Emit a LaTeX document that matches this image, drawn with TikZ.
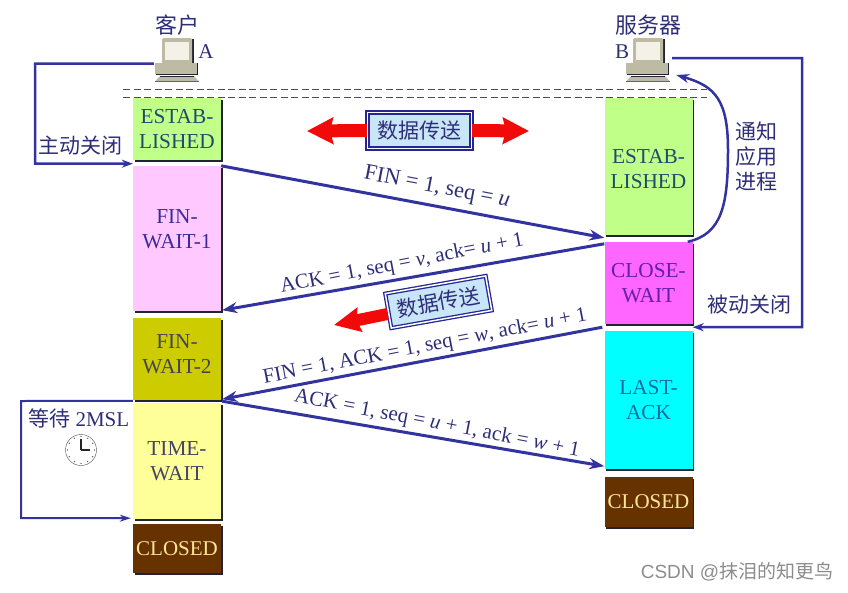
\documentclass[tikz,border=0pt]{standalone}
\usepackage{fontspec}
\setmainfont{Liberation Serif}
\newfontfamily\cjk{Noto Sans CJK SC}
\newfontfamily\wmfont{Liberation Sans}
\usetikzlibrary{arrows.meta,shadows,calc}
\definecolor{inkc}{HTML}{2E2E78}
\definecolor{linec}{HTML}{3333A0}
\definecolor{shadc}{HTML}{222233}
\definecolor{redc}{HTML}{F20A0A}
\definecolor{pcbody}{HTML}{BDBBA3}
\definecolor{pcscr}{HTML}{F4F2E6}
\definecolor{dbfill}{HTML}{C8E6F8}
\tikzset{
  stbox/.style={inner sep=0pt, minimum width=88pt, align=center,
    font=\fontsize{21.3}{25}\selectfont,
    general shadow={fill=shadc, shadow xshift=1.5pt, shadow yshift=-1.5pt}},
  sttext/.style={inner sep=0pt, align=center, font=\fontsize{21.3}{25}\selectfont},
  msg/.style={font=\fontsize{21}{24}\selectfont, text=inkc, inner sep=0pt},
  lab/.style={font=\fontsize{21}{25}\selectfont\cjk, text=inkc, inner sep=0pt, align=center},
  flow/.style={draw=linec, line width=3pt, -{Stealth[length=15pt,width=11pt]}},
  loopa/.style={draw=linec, line width=2.5pt, -{Stealth[length=11pt,width=8pt]}},
  dbox/.style={draw=inkc!80!blue, line width=1.3pt, double=white, double distance=1.5pt, fill=dbfill,
     inner sep=0pt, minimum width=104pt, minimum height=36pt, font=\fontsize{21}{25}\selectfont\cjk, text=inkc},
  redarrow/.style={draw=redc, line width=13pt, -{Stealth[length=26pt,width=26pt,inset=3pt]}, redc},
  redarrowb/.style={draw=redc, line width=12pt, -{Stealth[length=26pt,width=24pt,inset=3pt]}, redc},
  dash line/.style={draw=black!70, line width=1pt, dash pattern=on 7pt off 3.5pt},
}
\begin{document}
\begin{tikzpicture}[x=1pt,y=-1pt]
\useasboundingbox (0,0) rectangle (848,592);
% state boxes, client
\node[stbox, fill={rgb,255:red,192;green,255;blue,136}, text={rgb,255:red,30;green,75;blue,110}, minimum height=62pt] (ce) at (177,129) {ESTAB-\\LISHED};
\node[stbox, fill={rgb,255:red,255;green,200;blue,255}, minimum height=145pt] (cf1) at (177,238.5) {};
\node[sttext, text={rgb,255:red,58;green,42;blue,154}] (cf1t) at (177,229.5) {FIN-\\WAIT-1};
\node[stbox, fill={rgb,255:red,204;green,204;blue,0}, minimum height=82pt] (cf2) at (177,359) {};
\node[sttext, text={rgb,255:red,68;green,68;blue,90}] (cf2t) at (177,354) {FIN-\\WAIT-2};
\node[stbox, fill={rgb,255:red,255;green,255;blue,153}, text={rgb,255:red,68;green,68;blue,100}, minimum height=116pt] (ct) at (177,461) {TIME-\\WAIT};
\node[stbox, fill={rgb,255:red,102;green,51;blue,0}, text={rgb,255:red,255;green,230;blue,153}, minimum height=49pt, font=\fontsize{21}{25}\selectfont] (cc) at (177,548.5) {CLOSED};
% state boxes, server
\node[stbox, fill={rgb,255:red,192;green,255;blue,136}, minimum height=137pt] (se) at (648.5,166.5) {};
\node[sttext, text={rgb,255:red,30;green,75;blue,110}] (set) at (648.5,169.5) {ESTAB-\\LISHED};
\node[stbox, fill={rgb,255:red,255;green,102;blue,255}, text={rgb,255:red,100;green,30;blue,170}, minimum height=82pt] (sw) at (648.5,283) {CLOSE-\\WAIT};
\node[stbox, fill={rgb,255:red,0;green,255;blue,255}, text={rgb,255:red,15;green,105;blue,175}, minimum height=138pt] (sl) at (648.5,400) {LAST-\\ACK};
\node[stbox, fill={rgb,255:red,102;green,51;blue,0}, text={rgb,255:red,255;green,230;blue,153}, minimum height=50pt, font=\fontsize{21}{25}\selectfont] (sc) at (648.5,502) {CLOSED};
% dashed lines
\coordinate (d1) at (123,89); \coordinate (d2) at (707,89);
\coordinate (d3) at (123,97); \coordinate (d4) at (707,97);
\draw[dash line] (d1) -- (d2);
\draw[dash line] (d3) -- (d4);
% computers
\node[minimum width=44pt, minimum height=44pt, inner sep=0pt] (pca) at (177,60) {};
\node[minimum width=44pt, minimum height=44pt, inner sep=0pt] (pcb) at (648,60) {};
\foreach \n in {pca,pcb}{
  \begin{scope}[shift={(\n.center)}]
    \fill[shadc] (17,-21) rectangle (15,3);
    \fill[pcbody, rounded corners=1.5pt] (-15,-22) rectangle (15,4);
    \fill[pcscr] (-12,-18) rectangle (12,0);
    \fill[shadc] (-21,3) rectangle (21,15);
    \fill[pcbody] (-22,3) rectangle (20,13.5);
    \fill[pcbody] (-17,16) -- (17,16) -- (22,21.5) -- (-22,21.5) -- cycle;
    \draw[shadc, line width=0.8pt] (-17,16) -- (17,16);
    \draw[shadc!70, line width=0.8pt] (-22,21.5) -- (22,21.5);
  \end{scope}
}
% titles
\node[lab, font=\fontsize{22}{25}\selectfont\cjk] (tca) at (177,25) {客户};
\node[lab, font=\fontsize{22}{25}\selectfont\cjk] (tcb) at (648,25) {服务器};
\node[msg, font=\fontsize{21}{25}\selectfont] (la) at (206,52) {A};
\node[msg, font=\fontsize{21}{25}\selectfont] (lb) at (622,52) {B};
% active close loop
\coordinate (ca1) at (35,63.5);
\coordinate (ca2) at (35,163.5);
\draw[loopa] ([xshift=-1pt,yshift=-3.5pt]pca.west) -- (ca1) -- (ca2) -- ([yshift=-3.5pt]ce.south west);
\node[lab] (zd) at (80,146) {主动关闭};
% passive close loop
\coordinate (cb1) at (802,58);
\coordinate (cb2) at (802,327);
\draw[loopa] ([xshift=2pt,yshift=2pt]pcb.east) -- (cb1) -- (cb2) -- ([yshift=-3pt]sw.south east);
\node[lab] (bd) at (749,305) {被动关闭};
% notify curve
\draw[draw=linec, line width=2.5pt, -{Stealth[length=13pt,width=9pt]}]
  ([xshift=-5pt]sw.north east) .. controls (722,234) and (728,205) .. (728,150) .. controls (728,100) and (715,86) .. ([xshift=6pt,yshift=-15pt]pcb.east);
\node[lab] (tz) at (756,156) {通知\\应用\\进程};
% messages
\draw[flow] (cf1.north east) -- ([yshift=4pt]sw.north west);
\draw[flow] ([yshift=-2pt]sw.north west) -- ([xshift=1pt,yshift=1pt]cf1.south east);
\draw[flow] ([xshift=-2pt,yshift=-3pt]sw.south west) -- ([xshift=1pt,yshift=1pt]cf2.south east);
\draw[flow] ([xshift=1pt,yshift=-1pt]cf2.south east) -- ([yshift=3pt]sl.south west);
\node[msg, rotate=-11, font=\fontsize{22.5}{24}\selectfont] (m1) at (437,188) {FIN = 1, seq = \textit{u}};
\node[msg, rotate=11] (m2) at (402,264) {ACK = 1, seq = \textit{v}, ack= \textit{u} + 1};
\node[msg, rotate=11] (m3) at (425,347) {FIN = 1, ACK = 1, seq = \textit{w}, ack= \textit{u} + 1};
\node[msg, rotate=-11] (m4) at (437,424) {ACK = 1, seq = \textit{u} + 1, ack = \textit{w} + 1};
% data boxes and red arrows
\coordinate (r1) at (307,131);
\coordinate (r2) at (529,131);
\coordinate (r3) at (334,325);
\node[dbox] (db1) at (419.5,130.5) {数据传送};
\draw[redarrow] (db1.west) -- (r1);
\draw[redarrow] (db1.east) -- (r2);
\node[dbox, rotate=10, minimum width=102pt, minimum height=35pt] (db2) at (438.5,302) {数据传送};
\draw[redarrowb] ([yshift=-3pt]db2.west) -- (r3);
% wait loop
\coordinate (w1) at (21,401);
\coordinate (w2) at (21,518);
\draw[draw=linec, line width=2pt, -{Stealth[length=11pt,width=7pt]}] ([yshift=2pt]ct.north west) -- (w1) -- (w2) -- ([xshift=-2pt,yshift=1pt]ct.south west);
\node[lab, inner sep=0pt] (wl) at (79,418) {等待 {\rmfamily 2MSL}};
% clock
\node[circle, draw=black!70, line width=0.4pt, minimum size=31pt, inner sep=0pt] (clk) at (81,450) {};
\foreach \a in {0,30,...,330}{
  \fill[black!80] ($(clk.center)+(\a:13.5)$) circle (0.6pt);
}
\draw[black!85, line width=1.4pt] (clk.center) -- ++(0,-11);
\draw[black!85, line width=1.4pt] (clk.center) -- ++(9,0);
% watermark
\node[inner sep=0pt, text=black!45, font=\fontsize{19}{22}\selectfont\wmfont] (wm) at (737,572) {CSDN @{\cjk 抹泪的知更鸟}};
\end{tikzpicture}
\end{document}
